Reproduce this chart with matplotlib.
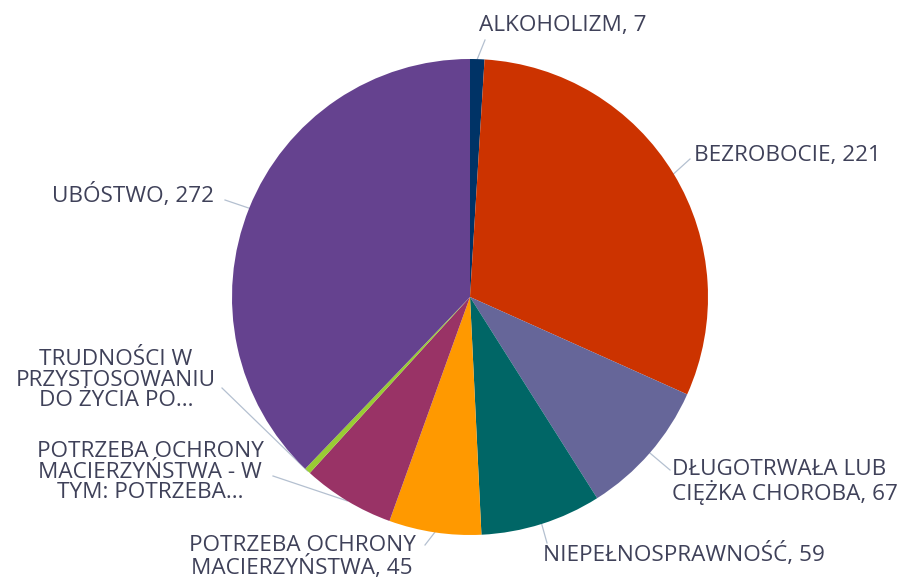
import numpy as np
import matplotlib
matplotlib.use("Agg")
import matplotlib.pyplot as plt

plt.rcParams["font.family"] = ["Open Sans", "DejaVu Sans"]

labels = [
    "ALKOHOLIZM, 7",
    "BEZROBOCIE, 221",
    "DŁUGOTRWAŁA LUB\nCIĘŻKA CHOROBA, 67",
    "NIEPEŁNOSPRAWNOŚĆ, 59",
    "POTRZEBA OCHRONY\nMACIERZYŃSTWA, 45",
    "POTRZEBA OCHRONY\nMACIERZYŃSTWA - W\nTYM: POTRZEBA...",
    "TRUDNOŚCI W\nPRZYSTOSOWANIU\nDO ŻYCIA PO...",
    "UBÓSTWO, 272",
]
values = [7, 221, 67, 59, 45, 45, 3, 272]
colors = ["#003366", "#cc3300", "#666699", "#006666",
          "#ff9900", "#993366", "#99cc33", "#65428f"]

# label placement (pixels from top-left) and alignment
label_pos = [
    (479, 25, "left"),
    (694, 156, "left"),
    (672, 482, "left"),
    (543, 554, "left"),
    (302, 557, "center"),
    (150, 472, "center"),
    (116, 380, "center"),
    (133, 195, "center"),
]
line_end = [
    (485, 40), (690, 159), (670, 470), (547, 543),
    (425, 545), (273, 476), (222, 388), (225, 200),
]

W, H = 907, 582
fig = plt.figure(figsize=(W / 100, H / 100), dpi=100)
ax = fig.add_axes([0, 0, 1, 1])

cx, cy, r = 470, H - 297, 238
wedges, _ = ax.pie(values, colors=colors, startangle=90, counterclock=False,
                   center=(cx, cy), radius=r, frame=True,
                   wedgeprops=dict(linewidth=0))
ax.set_xlim(0, W)
ax.set_ylim(0, H)
ax.set_aspect("equal")
ax.axis("off")

text_color = "#3f4159"
line_color = "#b4c0d0"
for w, lab, (tx, ty, ha), (lx, ly) in zip(wedges, labels, label_pos, line_end):
    ang = np.deg2rad((w.theta1 + w.theta2) / 2)
    px, py = cx + r * np.cos(ang), cy + r * np.sin(ang)
    ax.plot([px, lx], [py, H - ly], color=line_color, lw=0.9, zorder=0)
    ax.text(tx, H - ty, lab, ha=ha, va="center", multialignment=ha,
            fontsize=16.2, color=text_color, linespacing=0.97)

fig.savefig("out.png", dpi=100)
